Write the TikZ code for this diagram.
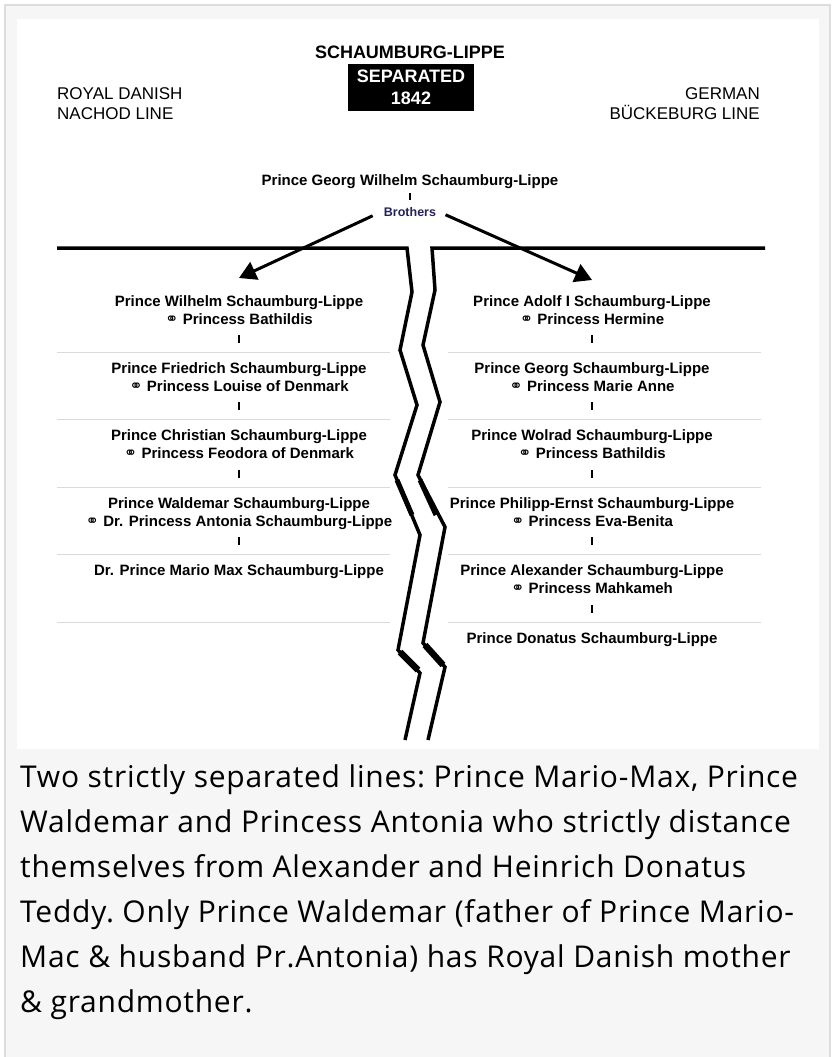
\documentclass[tikz,border=0pt]{standalone}
\usepackage{fontspec}
\setmainfont{Liberation Sans}
\newfontfamily\captionfont[LetterSpace=2.5]{Open Sans}
\newfontfamily\symbfont{DejaVu Sans}
\usetikzlibrary{arrows.meta}

\definecolor{framegray}{HTML}{DDDDDD}
\definecolor{panelgray}{HTML}{F6F6F6}
\definecolor{rulegray}{HTML}{DADADA}
\definecolor{brothersblue}{HTML}{25215A}

% marriage sign
\newcommand{\wed}{{\symbfont\fontsize{16}{16}\selectfont ⚭}}

\begin{document}
\begin{tikzpicture}[x=1pt, y=-1pt,
  person/.style={font=\fontsize{15}{18}\selectfont\bfseries, align=center, inner sep=0pt, anchor=base},
  header/.style={font=\fontsize{17}{20}\selectfont, inner sep=0pt},
  tickline/.style={line width=2pt},
  rowrule/.style={draw=rulegray, line width=1pt},
  split/.style={line width=3.5pt, line join=miter},
  sibarrow/.style={line width=3pt, -{Triangle[length=17pt,width=19pt]}}]

\useasboundingbox (0,0) rectangle (833,1057);

% Le cadre
\fill[panelgray, draw=framegray, line width=1.5pt] (5,5) rectangle (830,1062);
\fill[white] (17,19) rectangle (819,749);

% L'en-tete
\node[font=\fontsize{18}{22}\selectfont\bfseries, inner sep=0pt, anchor=base] (title) at (410,59) {SCHAUMBURG-LIPPE};
\node[fill=black, text=white, font=\fontsize{18}{22}\selectfont\bfseries, align=center,
      minimum width=126pt, minimum height=47pt, inner sep=0pt] (sepbox) at (411,87.5) {SEPARATED\\1842};
\node[header, align=left, anchor=base west] (danish) at (57,119) {ROYAL DANISH\\NACHOD LINE};
\node[header, align=right, anchor=base east] (german) at (760,119) {GERMAN\\BÜCKEBURG LINE};

% Le pere et les freres
\node[person] (georg) at (410,185) {Prince Georg Wilhelm Schaumburg-Lippe};
\node[font=\fontsize{12.5}{15}\selectfont\bfseries, text=brothersblue, anchor=base, inner sep=2pt] (brothers) at (410,216) {Brothers};
\draw[tickline, shorten <=5pt, shorten >=5pt] (georg.south) -- (brothers.north);

% La ligne danoise (gauche)
\foreach \nom/\wife [count=\k] in {{Prince Wilhelm Schaumburg-Lippe}/{Princess Bathildis},
    {Prince Friedrich Schaumburg-Lippe}/{Princess Louise of Denmark},
    {Prince Christian Schaumburg-Lippe}/{Princess Feodora of Denmark},
    {Prince Waldemar Schaumburg-Lippe}/{Dr. Princess Antonia Schaumburg-Lippe}}
{
\node[person] (L\k) at (239,{324+67.4*(\k-1)}) {\nom\\\wed\ \wife};
\draw[tickline] ([yshift=-11pt]L\k.base) -- ++(0,8);
}
\node[person] (L5) at (239,575.6) {Dr. Prince Mario Max Schaumburg-Lippe};

% La ligne allemande (droite)
\foreach \nom/\wife [count=\k] in {{Prince Adolf I Schaumburg-Lippe}/{Princess Hermine},
    {Prince Georg Schaumburg-Lippe}/{Princess Marie Anne},
    {Prince Wolrad Schaumburg-Lippe}/{Princess Bathildis},
    {Prince Philipp-Ernst Schaumburg-Lippe}/{Princess Eva-Benita},
    {Prince Alexander Schaumburg-Lippe}/{Princess Mahkameh}}
{
\node[person] (R\k) at (592,{324+67.4*(\k-1)}) {\nom\\\wed\ \wife};
\draw[tickline] ([yshift=-11pt]R\k.base) -- ++(0,8);
}
\node[person] (R6) at (592,643) {Prince Donatus Schaumburg-Lippe};

% Les separations
\foreach \k in {1,...,5}
{
\draw[rowrule] (57,{285+67.4*\k}) -- (390,{285+67.4*\k});
\draw[rowrule] (448,{285+67.4*\k}) -- (761,{285+67.4*\k});
}

% Les fleches
\draw[sibarrow, shorten <=10pt] (brothers.west) -- ([yshift=46pt]L1.base);
\draw[sibarrow, shorten <=8pt] (brothers.east) -- ([yshift=44pt]R1.base);

% La fracture
\draw[split] (57,248) -- (407,248) -- (412,292) -- (400,350) -- (417,405) -- (395,475)
  -- (420,535) -- (398,650) -- (420,673) -- (405,740);
\draw[split] (765,248) -- (432,248) -- (435,290) -- (423,345) -- (440,402) -- (418,475)
  -- (445,527) -- (423,643) -- (445,667) -- (428,740);
\draw[line width=5pt] (397,480) -- (412,515);
\draw[line width=5pt] (420,480) -- (436,515);
\draw[line width=6.5pt] (400,652) -- (418,670);
\draw[line width=6.5pt] (425,645) -- (443,665);

% La legende
\node[font=\captionfont\fontsize{30}{45}\selectfont\frenchspacing, align=left, anchor=base west, inner sep=0pt] (caption) at (20,1012)
  {Two strictly separated lines: Prince Mario-Max, Prince\\
   Waldemar and Princess Antonia who strictly distance\\
   themselves from Alexander and Heinrich Donatus\\
   Teddy. Only Prince Waldemar (father of Prince Mario-\\
   Mac \& husband Pr.Antonia) has Royal Danish mother\\
   \& grandmother.};

\end{tikzpicture}
\end{document}
